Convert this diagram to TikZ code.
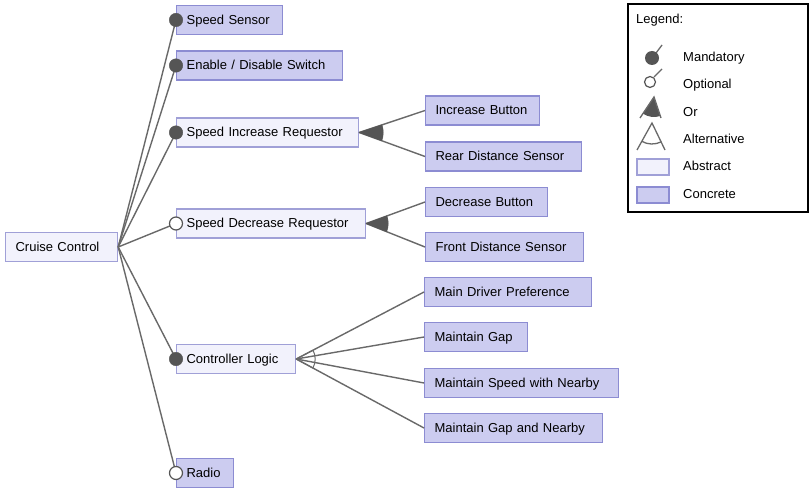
\documentclass[tikz,border=0pt]{standalone}
\usepackage{fontspec}
\setmainfont{Liberation Sans}
\usetikzlibrary{calc}
\definecolor{concfill}{RGB}{204,204,240}
\definecolor{concdraw}{RGB}{140,140,210}
\definecolor{absfill}{RGB}{242,242,252}
\definecolor{absdraw}{RGB}{160,160,215}
\definecolor{edgecol}{RGB}{105,105,105}
\definecolor{markcol}{RGB}{85,85,85}
\tikzset{
 feat/.style={draw, line width=1.2pt, anchor=west, minimum height=29pt, inner xsep=10pt, inner ysep=0pt, align=left, font=\fontsize{13}{15}\selectfont, text height=11.5pt, text depth=2.5pt},
 conc/.style={feat, fill=concfill, draw=concdraw},
 abst/.style={feat, fill=absfill, draw=absdraw},
 edgeline/.style={draw=edgecol, line width=1.4pt},
 mand/.style={circle, fill=markcol, draw=markcol, inner sep=0pt, minimum size=13.5pt},
 opt/.style={circle, fill=white, draw=markcol, line width=1.2pt, inner sep=0pt, minimum size=13pt},
 legtext/.style={anchor=west, inner sep=0pt, font=\fontsize{13}{15}\selectfont},
}
\newcommand\featgroup[5]{%
 \path let \p1=(#1.east), \p2=(#2.west), \p3=(#3.west),
   \n1={atan2(\y2-\y1,\x2-\x1)}, \n2={atan2(\y3-\y1,\x3-\x1)} in
   [#5] (\p1) -- ($(\p1)+(\n1:#4)$) arc[start angle=\n1, end angle=\n2, radius=#4] -- cycle;}
\begin{document}
\begin{tikzpicture}[x=1pt,y=1pt]
\useasboundingbox (0,0) rectangle (809,-489);
\fill[white] (0,0) rectangle (809,-489);
% features
\node[abst, text width=92pt] (cc) at (5,-247) {Cruise Control};
\node[conc, text width=86pt] (ss) at (176,-20) {Speed Sensor};
\node[conc, text width=146pt] (eds) at (176,-65.5) {Enable / Disable Switch};
\node[abst, text width=162pt] (sir) at (176,-132.5) {Speed Increase Requestor};
\node[abst, text width=169pt] (sdr) at (176,-223.5) {Speed Decrease Requestor};
\node[abst, text width=99pt] (cl) at (176,-359) {Controller Logic};
\node[conc, text width=37pt] (radio) at (176,-473) {Radio};
\node[conc, text width=94pt] (ib) at (425,-110.5) {Increase Button};
\node[conc, text width=136pt] (rds) at (425,-156.5) {Rear Distance Sensor};
\node[conc, text width=102pt] (db) at (425,-202) {Decrease Button};
\node[conc, text width=138pt] (fds) at (425,-247) {Front Distance Sensor};
\node[conc, text width=147pt] (mdp) at (424,-292) {Main Driver Preference};
\node[conc, text width=83pt] (mg) at (424,-337) {Maintain Gap};
\node[conc, text width=174pt] (msn) at (424,-383) {Maintain Speed with Nearby};
\node[conc, text width=158pt] (mgn) at (424,-428) {Maintain Gap and Nearby};
% edges
\foreach \c in {ss,eds,sir,sdr,cl,radio} \draw[edgeline] (cc.east) -- (\c.west);
\foreach \c in {ib,rds} \draw[edgeline] (sir.east) -- (\c.west);
\foreach \c in {db,fds} \draw[edgeline] (sdr.east) -- (\c.west);
\foreach \c in {mdp,mg,msn,mgn} \draw[edgeline] (cl.east) -- (\c.west);
% groups
\featgroup{sir}{ib}{rds}{24pt}{fill=markcol, draw=markcol, line width=0.6pt}
\featgroup{sdr}{db}{fds}{22pt}{fill=markcol, draw=markcol, line width=0.6pt}
\featgroup{cl}{mdp}{mgn}{19pt}{draw=edgecol, line width=1pt}
% markers
\node[mand] (ssm) at (ss.west) {};
\node[mand] (edsm) at (eds.west) {};
\node[mand] (sirm) at (sir.west) {};
\node[opt] (sdrm) at (sdr.west) {};
\node[mand] (clm) at (cl.west) {};
\node[opt] (radiom) at (radio.west) {};
% legend
\draw[line width=1.4pt] (628,-4) rectangle (808,-212);
\node[legtext] (lt) at (636,-20) {Legend:};
\draw[edgecol, line width=1.3pt] (656,-53) -- (662,-45);
\fill[markcol] (652,-58) circle (7);
\node[legtext] (l1) at (683,-58) {Mandatory};
\draw[edgecol, line width=1.3pt] (654,-77) -- (662,-69);
\draw[markcol, line width=1.2pt, fill=white] (650,-82) circle (5.5);
\node[legtext] (l2) at (683,-85) {Optional};
\fill[markcol] (654,-97) -- ($(654,-97)+(-124:20)$) arc[start angle=-124, end angle=-72, radius=20] -- cycle;
\draw[edgecol, line width=1.3pt] (640,-118) -- (654,-97) -- (661,-118);
\node[legtext] (l3) at (683,-112) {Or};
\draw[edgecol, line width=1.3pt] (637,-150) -- (652,-123) -- (665,-150);
\draw[edgecol, line width=1.3pt] ($(652,-123)+(-119:21)$) arc[start angle=-119, end angle=-64, radius=21];
\node[legtext] (l4) at (683,-139) {Alternative};
\draw[absdraw, fill=absfill, line width=1.2pt] (637,-159) rectangle (669,-175);
\node[legtext] (l5) at (683,-166) {Abstract};
\draw[concdraw, fill=concfill, line width=1.2pt] (637,-187) rectangle (669,-203);
\node[legtext] (l6) at (683,-194) {Concrete};
\end{tikzpicture}
\end{document}
